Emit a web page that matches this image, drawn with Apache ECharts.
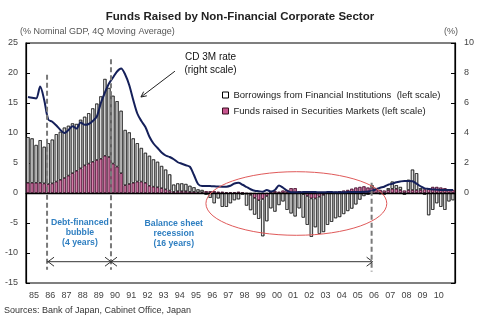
<!DOCTYPE html>
<html><head><meta charset="utf-8">
<script src="https://cdn.jsdelivr.net/npm/echarts@6/dist/echarts.min.js"></script>
<style>html,body{margin:0;padding:0;background:#fff}#c{width:480px;height:321px}</style>
</head><body><div id="c"></div>
<script>
// ---- data ----
const years = ['85','86','87','88','89','90','91','92','93','94','95','96','97','98','99','00','01','02','03','04','05','06','07','08','09','10','11'];
const yearLabels = ['85','86','87','88','89','90','91','92','93','94','95','96','97','98','99','00','01','02','03','04','05','06','07','08','09','10'];
const quarterNames = ['Q1','Q2','Q3','Q4'];
const nQuarters = 106; // 1985Q1 .. 2011Q2
const categories = [];
for (const y of years) for (const q of quarterNames) if (categories.length < nQuarters) categories.push(y + q);

// Borrowings from Financial Institutions (% of nominal GDP, left scale)
const borrowings = [
  7.6, 7.4, 6.3, 7.1,   6.1, 6.8, 7.3, 7.9,   8.0, 8.4, 8.3, 8.3,   7.8, 8.1, 8.1, 8.4,
  8.9, 9.4, 10.4, 12.8, 11.5, 11.3, 10.9, 10.4, 9.2, 8.6, 7.4, 6.4,  5.6, 5.0, 5.0, 4.55,
  4.25, 3.7, 3.3, 2.7,  1.2, 1.3, 1.3, 1.2,   1.0, 0.75, 0.5, 0.4,
  -0.3, -0.8, -1.7, -0.9,  -2.3, -2.3, -1.7, -1.2,  -1.05, -0.3, -2.0, -2.55,
  -2.8, -3.1, -6.2, -4.2,  -2.55, -3.1, -2.0, -1.4,  -2.8, -3.4, -3.9, -2.55,
  -3.9, -4.8, -6.4, -4.8,  -6.2, -6.2, -5.3, -4.8,  -4.2, -4.0, -3.5, -3.0,
  -2.6, -1.9, -1.1, -0.5,  -0.3, 0.4, 0.1, -0.2,  -0.3, 0.3, 1.2, 0.6,
  0.5, -0.3, 1.7, 3.4,  2.8, 0.3, -0.3, -3.7,  -2.8, -1.7, -2.3, -2.8,  -1.4, -1.2
];
// Funds raised in Securities Markets (left scale)
const securities = [
  1.7, 1.7, 1.7, 1.7,  1.6, 1.5, 1.6, 1.9,  2.2, 2.5, 2.9, 3.3,  3.7, 4.1, 4.6, 4.9,
  5.2, 5.5, 5.7, 6.2,  6.0, 4.9, 4.4, 3.3,  1.3, 1.5, 1.7, 1.9,  1.9, 1.7, 1.2, 1.05,
  0.95, 0.8, 0.6, 0.4,  0.2, 0.3, 0.3, 0.3,  0.2, 0.2, 0.1, 0.1,
  0.3, 0.3, 0.3, 0.2,  0.2, 0.1, 0.1, 0.1,  0.2, 0.1, -0.1, -0.3,
  -0.8, -1.2, -1.0, -0.5,  0.2, 0.3, 0.2, 0.4,  0.5, 0.8, 0.8, 0.3,
  -0.2, -0.5, -0.9, -0.9,  -0.6, -0.3, 0.1, 0.2,  0.2, 0.3, 0.4, 0.5,
  0.7, 0.9, 1.0, 1.1,  0.9, 0.9, 0.7, 0.5,  0.4, 0.5, 0.7, 0.7,
  0.5, 0.4, 0.5, 0.5,  0.5, 0.5, 0.6, 0.8,  1.0, 1.0, 0.9, 0.8,  0.6, 0.5
];
// CD 3M rate (%, right scale)
const cdRate = [
  6.4, 6.35, 6.3, 7.1,  6.2, 4.9, 4.75, 4.5,  4.2, 4.0, 4.2, 4.45,  4.3, 4.7, 4.55, 4.6,
  4.8, 5.1, 6.0, 6.7,  7.3, 7.7, 8.1, 8.3,  7.9, 7.2, 6.2, 5.3,  4.8, 4.4, 3.75, 3.3,
  3.0, 2.7, 2.5, 2.4,  2.25, 2.05, 1.95, 1.85,  1.75, 1.2, 0.6, 0.47,
  0.47, 0.46, 0.45, 0.43,  0.42, 0.42, 0.48, 0.63,  0.68, 0.55, 0.4, 0.25,
  0.15, 0.12, 0.09, 0.2,  0.1, 0.2, 0.5, 0.35,  0.15, 0.05, 0.05, 0.05,
  0.06, 0.06, 0.06, 0.06,  0.05, 0.05, 0.06, 0.06,  0.05, 0.05, 0.05, 0.06,
  0.06, 0.06, 0.07, 0.08,  0.1, 0.15, 0.25, 0.35,  0.42, 0.55, 0.62, 0.72,
  0.77, 0.8, 0.8, 0.78,  0.62, 0.45, 0.31, 0.27,  0.24, 0.22, 0.2, 0.2,  0.2, 0.2
];
const leftTicks = {min: -15, max: 25, interval: 5};
const rightTicks = {min: -6, max: 10, interval: 2};

const nameB = 'Borrowings from Financial Institutions  (left scale)';
const nameS = 'Funds raised in Securities Markets (left scale)';
const FONT = '"Liberation Sans", Arial, sans-serif';
const BLUE = '#2f7fc1';

const chart = echarts.init(document.getElementById('c'), null, {renderer: 'canvas'});
const axisTxt = {color: '#444', fontSize: 9, fontFamily: FONT};
const option = {
  animation: false,
  backgroundColor: '#fff',
  textStyle: {fontFamily: FONT},
  title: {text: 'Funds Raised by Non-Financial Corporate Sector', left: 'center', top: 6,
    textStyle: {fontSize: 11.5, fontWeight: 'bold', color: '#222', fontFamily: FONT}},
  grid: {left: 26, right: 25, top: 43, bottom: 38, show: true, borderColor: '#000', borderWidth: 1.2},
  legend: {
    orient: 'vertical', left: 217, top: 85, itemWidth: 6, itemHeight: 6, itemGap: 6, icon: 'rect',
    textStyle: {fontSize: 9.5, color: '#222', fontFamily: FONT},
    data: [
      {name: nameB, itemStyle: {color: '#fff', borderColor: '#000', borderWidth: 1}},
      {name: nameS, itemStyle: {color: '#c8558f', borderColor: '#3a1020', borderWidth: 1}}
    ]
  },
  xAxis: {
    type: 'category', data: categories, boundaryGap: true,
    axisLine: {lineStyle: {color: '#000', width: 1.2}},
    axisTick: {inside: true, length: 4, interval: (i) => i % 4 === 0, lineStyle: {color: '#000'}},
    axisLabel: Object.assign({
      interval: (i) => i % 4 === 1 && yearLabels.includes(categories[i].slice(0, 2)),
      formatter: (v) => v.slice(0, 2), margin: 8, padding: [0, 0, 0, 4]}, axisTxt),
    splitLine: {show: false}
  },
  yAxis: [
    Object.assign({type: 'value', splitLine: {show: false},
      axisLine: {show: true, lineStyle: {color: '#000', width: 1.2}},
      axisTick: {show: true, inside: true, length: 4, lineStyle: {color: '#000'}},
      axisLabel: Object.assign({margin: 8}, axisTxt)}, leftTicks),
    Object.assign({type: 'value', position: 'right', splitLine: {show: false},
      axisLine: {show: true, lineStyle: {color: '#000', width: 1.2}},
      axisTick: {show: true, inside: true, length: 4, lineStyle: {color: '#000'}},
      axisLabel: Object.assign({margin: 9, formatter: (v) => v < 0 ? '' : String(v)}, axisTxt)}, rightTicks)
  ],
  series: [
    {name: nameS, type: 'bar', stack: 'funds', data: securities, barWidth: '78%',
      itemStyle: {color: new echarts.graphic.LinearGradient(0, 0, 1, 0, [{offset: 0, color: '#f2b6d4'}, {offset: 1, color: '#b23a78'}]),
        borderColor: '#4a1030', borderWidth: 0.6},
      markLine: {silent: true, symbol: 'none', label: {show: false}, data: [{yAxis: 0}],
        lineStyle: {color: '#000', width: 1.3, type: 'solid'}}},
    {name: nameB, type: 'bar', stack: 'funds', data: borrowings, barWidth: '78%',
      itemStyle: {color: new echarts.graphic.LinearGradient(0, 0, 1, 0, [{offset: 0, color: '#ffffff'}, {offset: 0.4, color: '#f2f2f2'}, {offset: 1, color: '#8c8c8c'}]),
        borderColor: '#222', borderWidth: 0.6}},
    {name: 'CD 3M rate', type: 'line', yAxisIndex: 1, data: cdRate, showSymbol: false, smooth: 0.3, z: 5,
      lineStyle: {color: '#15205a', width: 2}}
  ]
};
chart.setOption(option);

// ---- annotations placed through the axes ----
const c0 = chart.convertToPixel({xAxisIndex: 0}, categories[0]);
const c1 = chart.convertToPixel({xAxisIndex: 0}, categories[1]);
const bw = c1 - c0;
const xStart = c0 - bw / 2;
const X = (yr) => xStart + (yr - 1985) * 4 * bw;
const Y = (v) => chart.convertToPixel({yAxisIndex: 0}, v);

function chevron(tx, ty, dir, size) {
  const bx = tx - dir * size;
  return {type: 'polyline', shape: {points: [[bx, ty - size * 0.75], [tx, ty], [bx, ty + size * 0.75]]},
    style: {stroke: '#333', lineWidth: 1, fill: null}};
}
const dashStyle = {stroke: '#7a7a7a', lineWidth: 2, lineDash: [5, 3]};
const xA = X(1986.3), xB = X(1990.25), xC = X(2006.35);
const yArrow = Y(-11.45), yBottom = Y(-12.8);
const graphics = [
  {type: 'text', left: 20, top: 27, style: {text: '(% Nominal GDP, 4Q Moving Average)', fill: '#555', font: '9px ' + FONT}},
  {type: 'text', left: 444, top: 27, style: {text: '(%)', fill: '#555', font: '9px ' + FONT}},
  {type: 'text', left: 4, top: 306, style: {text: 'Sources: Bank of Japan, Cabinet Office, Japan', fill: '#333', font: '9px ' + FONT}},
  {type: 'line', shape: {x1: xA, y1: Y(19.7), x2: xA, y2: yBottom}, style: dashStyle},
  {type: 'line', shape: {x1: xB, y1: Y(22.3), x2: xB, y2: yBottom}, style: dashStyle},
  {type: 'line', shape: {x1: xC, y1: Y(1.7), x2: xC, y2: Y(-13.1)}, style: dashStyle},
  {type: 'line', shape: {x1: xA, y1: yArrow, x2: xC, y2: yArrow}, style: {stroke: '#333', lineWidth: 1}},
  chevron(xA + 1, yArrow, -1, 6), chevron(xB, yArrow, 1, 6), chevron(xB, yArrow, -1, 6), chevron(xC + 1, yArrow, 1, 6),
  {type: 'ellipse', shape: {cx: X(2001.7), cy: Y(-1.75), rx: 90.5 * bw / 4.05, ry: Math.abs(Y(0) - Y(5.3))},
    style: {fill: null, stroke: '#e05a5a', lineWidth: 1}},
  {type: 'text', x: X(1988.33), y: Y(-6.6), style: {text: 'Debt-financed\nbubble\n(4 years)', fill: BLUE,
    font: 'bold 8.7px ' + FONT, align: 'center', verticalAlign: 'middle', lineHeight: 10}},
  {type: 'text', x: X(1994.13), y: Y(-6.7), style: {text: 'Balance sheet\nrecession\n(16 years)', fill: BLUE,
    font: 'bold 8.7px ' + FONT, align: 'center', verticalAlign: 'middle', lineHeight: 10}},
  {type: 'text', x: X(1996.4), y: Y(21.6), style: {text: 'CD 3M rate\n(right scale)', fill: '#111',
    font: '10px ' + FONT, align: 'center', verticalAlign: 'middle', lineHeight: 13}},
  {type: 'line', shape: {x1: X(1994.2), y1: Y(20.3), x2: X(1992.1), y2: Y(16.0)}, style: {stroke: '#222', lineWidth: 1}}
];
(function () {
  const x1 = X(1994.2), y1 = Y(20.3), x2 = X(1992.1), y2 = Y(16.0);
  const ang = Math.atan2(y2 - y1, x2 - x1), L = 6, a = 0.45;
  graphics.push({type: 'polyline', shape: {points: [
    [x2 - L * Math.cos(ang - a), y2 - L * Math.sin(ang - a)], [x2, y2],
    [x2 - L * Math.cos(ang + a), y2 - L * Math.sin(ang + a)]]}, style: {stroke: '#222', lineWidth: 1, fill: null}});
})();
chart.setOption({graphic: graphics.map((g) => Object.assign({silent: true, z: 100}, g))});
</script></body></html>
